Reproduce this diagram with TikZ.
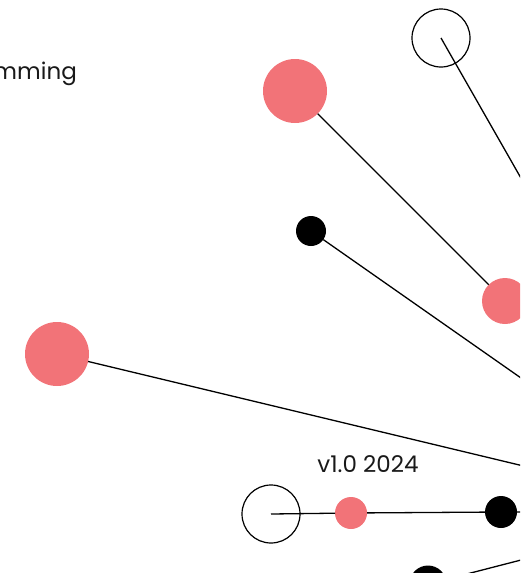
\documentclass[tikz,border=0pt]{standalone}
\usepackage{fontspec}
\setmainfont{Poppins}
\definecolor{dotpink}{RGB}{242,115,120}
\begin{document}
\begin{tikzpicture}[x=1pt,y=-1pt,
  link/.style={draw=black,line width=1.3pt},
  pinkdot/.style={circle,fill=dotpink,inner sep=0pt,outer sep=0pt},
  blackdot/.style={circle,fill=black,inner sep=0pt,outer sep=0pt},
  opendot/.style={circle,draw=black,line width=1.2pt,inner sep=0pt,outer sep=0pt},
  lbl/.style={font=\fontsize{23}{28}\selectfont,inner sep=0pt,text=black!90}]
\useasboundingbox (0,0) rectangle (520,573);
\clip (0,0) rectangle (520,573);
\coordinate (hub) at (711,511);
% nodes
\node[opendot,minimum size=58pt] (o1) at (441,38) {};
\node[pinkdot,minimum size=64pt] (p1) at (295,91) {};
\node[blackdot,minimum size=30pt] (b1) at (311,231) {};
\node[pinkdot,minimum size=46pt] (p2) at (505,301) {};
\node[pinkdot,minimum size=64pt] (p3) at (57,354) {};
\node[opendot,minimum size=58pt] (o2) at (271,514) {};
\node[pinkdot,minimum size=32pt] (p4) at (351,513) {};
\node[blackdot,minimum size=32pt] (b2) at (501,512) {};
\node[blackdot,minimum size=37pt] (b3) at (428,584) {};
% connectors
\draw[link] (o1.center) -- (hub);
\draw[link] (p1) -- (p2);
\draw[link] (p2) -- (hub);
\draw[link] (b1) -- (hub);
\draw[link] (p3) -- (hub);
\draw[link] (o2.center) -- (p4);
\draw[link] (p4) -- (b2);
\draw[link] (b2) -- (hub);
\draw[link] (b3) -- (hub);
% labels
\node[lbl,anchor=base east] (t1) at (77,79) {Programming};
\node[lbl,anchor=base] (t2) at (368,472) {v1.0 2024};
\end{tikzpicture}
\end{document}
